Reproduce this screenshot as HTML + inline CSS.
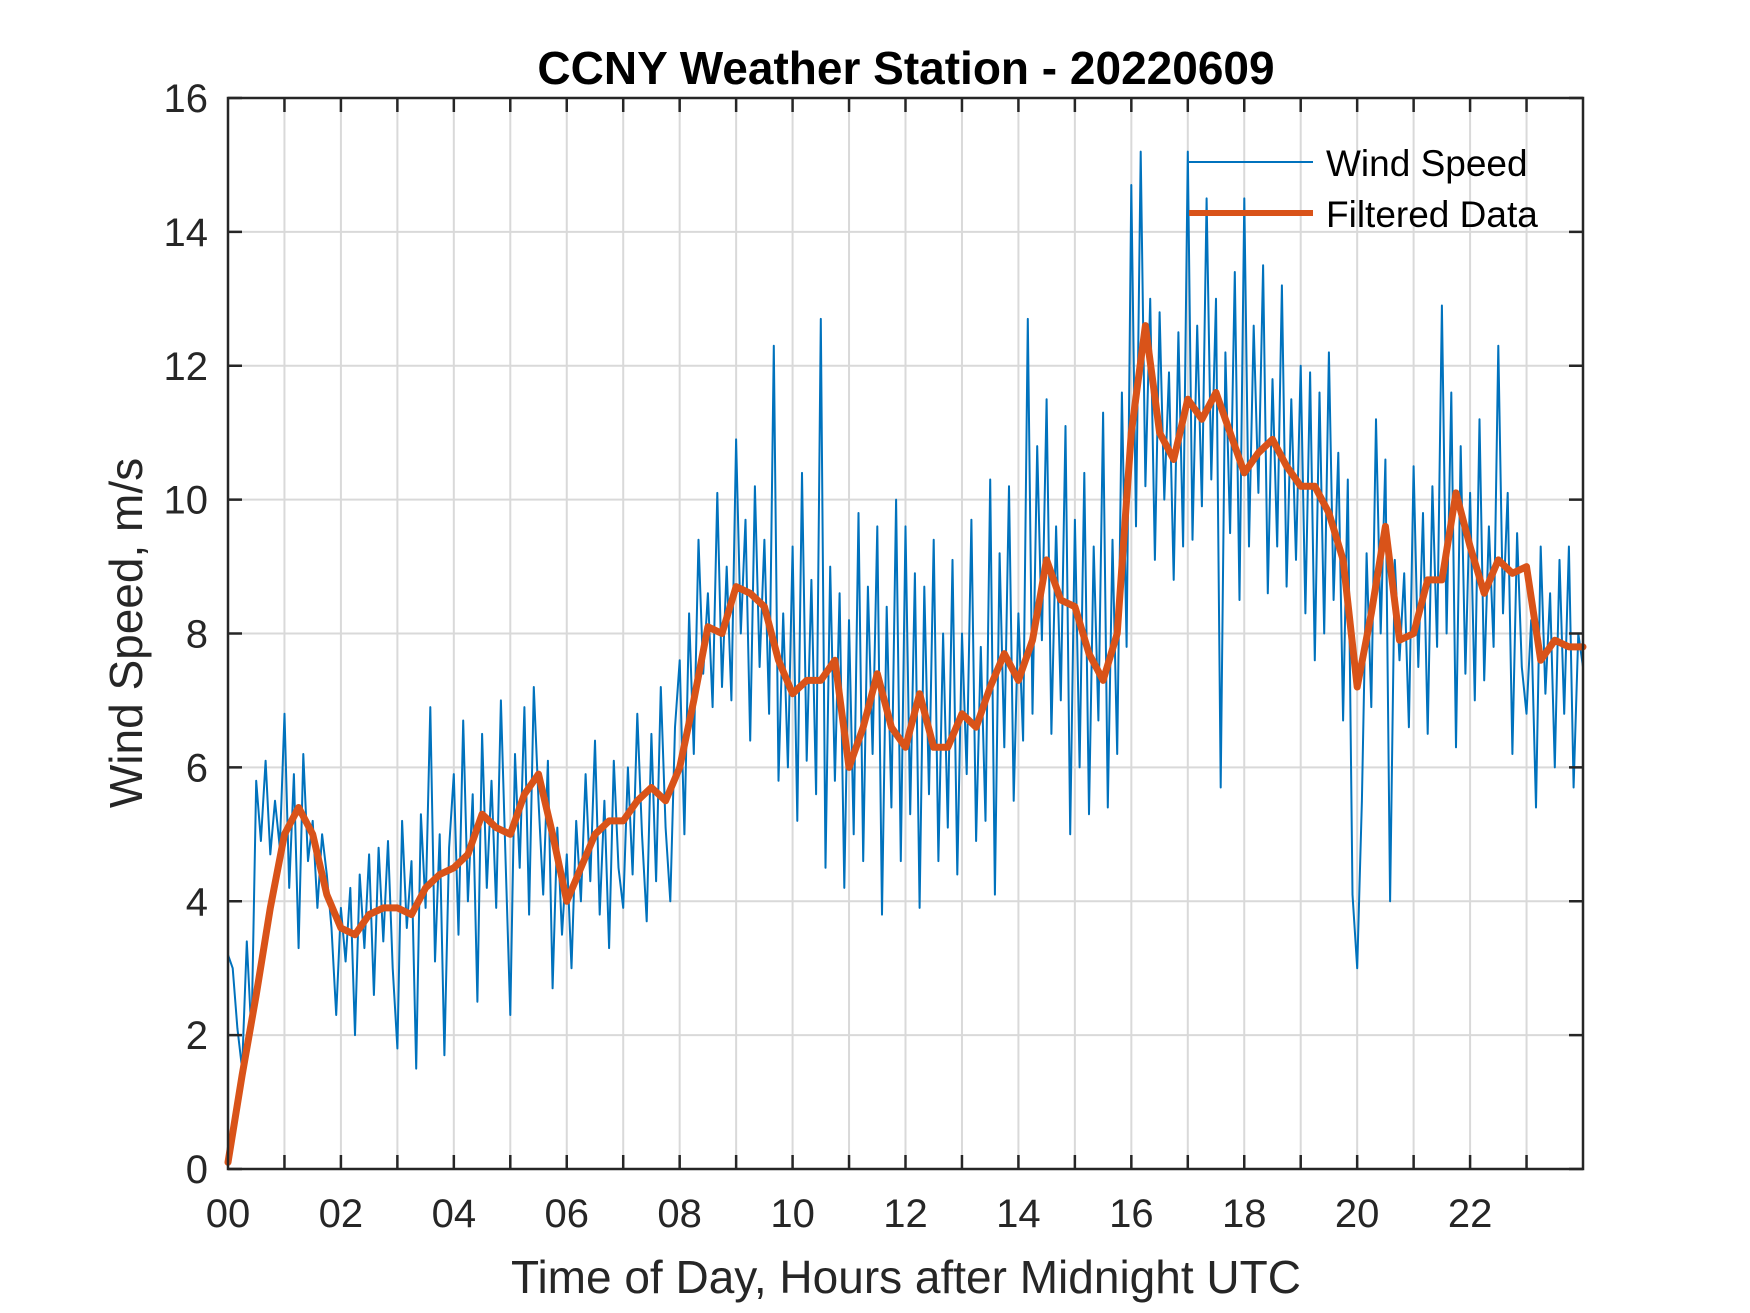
<!DOCTYPE html>
<html><head><meta charset="utf-8"><style>
html,body{margin:0;padding:0;background:#fff;}
svg{display:block;font-family:"Liberation Sans",Arial,sans-serif;}
</style></head><body>
<svg id="chart" width="1750" height="1313" viewBox="0 0 1750 1313" xmlns="http://www.w3.org/2000/svg">
<rect width="1750" height="1313" fill="#fff"/>
<g id="grid"></g>
<g id="series"></g>
<g id="axes"></g>
<text x="906" y="84" text-anchor="middle" font-size="46" font-weight="bold" fill="#000">CCNY Weather Station - 20220609</text>
<text x="906" y="1293" text-anchor="middle" font-size="46" fill="#262626">Time of Day, Hours after Midnight UTC</text>
<text transform="translate(142,633) rotate(-90)" text-anchor="middle" font-size="46" fill="#262626">Wind Speed, m/s</text>
<g>
<line x1="1189" y1="162" x2="1313" y2="162" stroke="#0072BD" stroke-width="2"/>
<text x="1326" y="176" font-size="37" fill="#000">Wind Speed</text>
<line x1="1189" y1="213" x2="1313" y2="213" stroke="#D95319" stroke-width="6"/>
<text x="1326" y="227" font-size="37" fill="#000">Filtered Data</text>
</g>
</svg>
<script>
const xTicks = [0,2,4,6,8,10,12,14,16,18,20,22];
const xTickLabels = ["00","02","04","06","08","10","12","14","16","18","20","22"];
const yTicks = [0,2,4,6,8,10,12,14,16];
const yTickLabels = ["0","2","4","6","8","10","12","14","16"];
// raw wind speed, 5-minute samples (m/s)
const windSpeed = [
3.2,3.0,2.1,1.5,3.4,2.0,5.8,4.9,6.1,4.7,5.5,4.8,
6.8,4.2,5.9,3.3,6.2,4.6,5.2,3.9,5.0,4.4,3.6,2.3,
3.9,3.1,4.2,2.0,4.4,3.3,4.7,2.6,4.8,3.4,4.9,3.0,
1.8,5.2,3.6,4.6,1.5,5.3,3.9,6.9,3.1,5.0,1.7,4.8,
5.9,3.5,6.7,4.0,5.6,2.5,6.5,4.2,5.8,3.9,7.0,4.6,
2.3,6.2,4.5,6.9,3.8,7.2,5.5,4.1,6.1,2.7,5.1,3.5,
4.7,3.0,5.2,4.0,5.9,4.3,6.4,3.8,5.5,3.3,6.1,4.5,
3.9,6.0,4.4,6.8,5.0,3.7,6.5,4.3,7.2,5.1,4.0,6.6,
7.6,5.0,8.3,6.2,9.4,7.4,8.6,6.9,10.1,7.2,9.0,7.0,
10.9,8.0,9.7,6.4,10.2,7.5,9.4,6.8,12.3,5.8,8.3,6.0,
9.3,5.2,10.4,6.1,8.8,5.6,12.7,4.5,9.0,5.8,8.6,4.2,
8.2,5.0,9.8,4.6,8.7,6.2,9.6,3.8,8.4,5.4,10.0,4.6,
9.6,5.3,8.9,3.9,8.7,5.6,9.4,4.6,8.0,5.1,9.1,4.4,
8.0,5.9,9.7,4.9,7.8,5.2,10.3,4.1,9.2,6.3,10.2,5.5,
8.3,6.4,12.7,6.8,10.8,7.9,11.5,6.5,9.6,7.0,11.1,5.0,
9.7,6.0,10.4,5.3,9.3,6.7,11.3,5.4,9.4,6.2,11.6,7.8,
14.7,9.6,15.2,10.2,13.0,9.1,12.8,10.0,11.9,8.8,12.5,9.3,
15.2,9.4,12.6,9.9,14.5,10.3,13.0,5.7,12.2,9.5,13.4,8.5,
14.5,9.3,12.6,10.1,13.5,8.6,11.8,9.3,13.2,8.7,11.5,9.1,
12.0,8.3,11.9,7.6,11.6,8.0,12.2,8.5,10.7,6.7,10.3,4.1,
3.0,5.5,9.2,6.9,11.2,8.0,10.6,4.0,9.1,7.6,8.9,6.6,
10.5,7.5,9.8,6.5,10.2,7.8,12.9,8.0,11.6,6.3,10.8,7.4,
10.1,7.0,11.2,7.3,9.6,7.8,12.3,8.3,10.1,6.2,9.5,7.5,
6.8,8.2,5.4,9.3,7.1,8.6,6.0,9.1,6.8,9.3,5.7,8.0,
7.5];
// filtered data, 15-minute samples (m/s)
const filtered = [
0.1,1.4,2.6,3.9, 5.0,5.4,5.0,4.1, 3.6,3.5,3.8,3.9, 3.9,3.8,4.2,4.4,
4.5,4.7,5.3,5.1, 5.0,5.6,5.9,5.0, 4.0,4.5,5.0,5.2, 5.2,5.5,5.7,5.5,
6.0,7.0,8.1,8.0, 8.7,8.6,8.4,7.6, 7.1,7.3,7.3,7.6, 6.0,6.6,7.4,6.6,
6.3,7.1,6.3,6.3, 6.8,6.6,7.2,7.7, 7.3,7.9,9.1,8.5, 8.4,7.7,7.3,8.0,
11.0,12.6,11.0,10.6, 11.5,11.2,11.6,11.0, 10.4,10.7,10.9,10.5, 10.2,10.2,9.8,9.1,
7.2,8.3,9.6,7.9, 8.0,8.8,8.8,10.1, 9.3,8.6,9.1,8.9, 9.0,7.6,7.9,7.8,
7.8];

const NS = "http://www.w3.org/2000/svg";
const L = 228, R = 1583, T = 98, B = 1169;
const xMax = 24, yMax = 16;
function xs(h){ return L + (h / xMax) * (R - L); }
function ys(v){ return B - (v / yMax) * (B - T); }
function mk(tag, attrs, parent){
  const e = document.createElementNS(NS, tag);
  for (const k in attrs) e.setAttribute(k, attrs[k]);
  parent.appendChild(e);
  return e;
}
const grid = document.getElementById('grid');
const axes = document.getElementById('axes');
const series = document.getElementById('series');

for (let h = 1; h < 24; h++) {
  const g = mk('line', {x1: xs(h), x2: xs(h), y1: T, y2: B, stroke: '#d9d9d9', 'stroke-width': 2}, grid);
  
  
}
for (let i = 1; i < yTicks.length - 1; i++) {
  const g = mk('line', {x1: L, x2: R, y1: ys(yTicks[i]), y2: ys(yTicks[i]), stroke: '#d9d9d9', 'stroke-width': 2}, grid);
  
  
}

function pts(arr, step){ return arr.map((v, i) => xs(i * step).toFixed(1) + ',' + ys(v).toFixed(1)).join(' '); }
const raw = mk('polyline', {points: pts(windSpeed, 1/12), fill: 'none', stroke: '#0072BD', 'stroke-width': 2, 'stroke-linejoin': 'round'}, series);


const filt = mk('polyline', {points: pts(filtered, 0.25), fill: 'none', stroke: '#D95319', 'stroke-width': 7, 'stroke-linejoin': 'round', 'stroke-linecap': 'round'}, series);



const box = mk('rect', {x: L, y: T, width: R - L, height: B - T, fill: 'none', stroke: '#262626', 'stroke-width': 2.5}, axes);



for (let h = 1; h < 24; h++) {
  mk('line', {x1: xs(h), x2: xs(h), y1: B, y2: B - 14, stroke: '#262626', 'stroke-width': 2.5}, axes);
  mk('line', {x1: xs(h), x2: xs(h), y1: T, y2: T + 14, stroke: '#262626', 'stroke-width': 2.5}, axes);
}
xTicks.forEach((h, i) => {
  const t = mk('text', {x: xs(h), y: 1227, 'text-anchor': 'middle', 'font-size': 40, fill: '#262626'}, axes);
  t.textContent = xTickLabels[i];
  
  
});
yTicks.forEach((v, i) => {
  mk('line', {x1: L, x2: L + 14, y1: ys(v), y2: ys(v), stroke: '#262626', 'stroke-width': 2.5}, axes);
  mk('line', {x1: R, x2: R - 14, y1: ys(v), y2: ys(v), stroke: '#262626', 'stroke-width': 2.5}, axes);
  const t = mk('text', {x: 208, y: ys(v) + 14, 'text-anchor': 'end', 'font-size': 40, fill: '#262626'}, axes);
  t.textContent = yTickLabels[i];
  
  
});
</script>
</body></html>
